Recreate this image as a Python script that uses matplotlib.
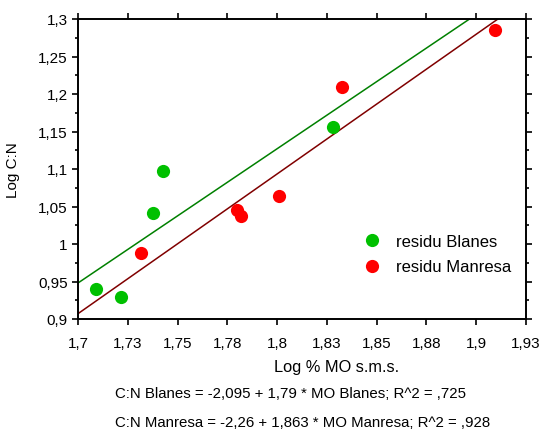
import matplotlib
matplotlib.use("Agg")
import matplotlib.pyplot as plt
import numpy as np
from matplotlib.ticker import MultipleLocator, FuncFormatter

plt.rcParams['font.family'] = ['Liberation Sans', 'DejaVu Sans']

# log % organic matter (x) and log C:N (y) for each site
BLANES_MO = [1.709, 1.7217, 1.7376, 1.7425, 1.828]
BLANES_CN = [0.940, 0.930, 1.041, 1.097, 1.156]
MANRESA_MO = [1.7318, 1.7798, 1.7821, 1.8007, 1.8328, 1.9093]
MANRESA_CN = [0.988, 1.046, 1.037, 1.064, 1.210, 1.286]

# regression coefficients (intercept, slope, R^2)
BLANES_FIT = (-2.095, 1.79, 0.725)
MANRESA_FIT = (-2.26, 1.863, 0.928)

X_MIN, X_MAX = 1.7, 1.925
Y_MIN, Y_MAX = 0.9, 1.3

W, H = 544, 435


def comma_fmt(decimals):
    # format numbers with a decimal comma and no trailing zeros
    def fmt(v, pos):
        s = ("%." + str(decimals) + "f") % v
        s = s.rstrip("0").rstrip(".")
        return s.replace(".", ",")
    return FuncFormatter(fmt)


def coef_str(v):
    s = ("%.3f" % v).rstrip("0").rstrip(".").replace(".", ",")
    if s.startswith("0,"):
        s = s[1:]
    return s


def plot():
    fig = plt.figure(figsize=(W / 100, H / 100), dpi=100)
    ax = fig.add_axes([78 / W, 115 / H, 448 / W, 300 / H])

    xs = np.array([X_MIN, X_MAX])
    ax.plot(xs, BLANES_FIT[0] + BLANES_FIT[1] * xs, color="#008000", lw=1.1, zorder=2)
    ax.plot(xs, MANRESA_FIT[0] + MANRESA_FIT[1] * xs, color="#800000", lw=1.1, zorder=2)

    ax.plot(BLANES_MO, BLANES_CN, "o", color="#00c000", ms=9.5, mec="none",
            label="residu Blanes", zorder=3)
    ax.plot(MANRESA_MO, MANRESA_CN, "o", color="#ff0000", ms=9.5, mec="none",
            label="residu Manresa", zorder=3)

    ax.set_xlim(X_MIN, X_MAX)
    ax.set_ylim(Y_MIN, Y_MAX)
    ax.xaxis.set_major_locator(MultipleLocator(0.025))
    ax.yaxis.set_major_locator(MultipleLocator(0.05))
    ax.yaxis.set_minor_locator(MultipleLocator(0.025))
    ax.xaxis.set_major_formatter(comma_fmt(2))
    ax.yaxis.set_major_formatter(comma_fmt(2))

    for side in ax.spines.values():
        side.set_linewidth(1.4)
    ax.tick_params(which="both", direction="out", top=True, right=True,
                   labeltop=False, labelright=False, width=1.2, labelsize=11)
    ax.tick_params(which="major", length=4.5, pad=3)
    ax.tick_params(which="minor", length=2.5)
    ax.tick_params(axis="x", pad=8)

    ax.set_ylabel("Log C:N", fontsize=11)
    ax.yaxis.set_label_coords((20 - 78) / 448, 0.5)

    ax.legend(loc="upper left", bbox_to_anchor=(364 / W, 1 - 235 / H),
              bbox_transform=fig.transFigure, frameon=False, borderpad=0,
              borderaxespad=0, fontsize=12, handlelength=1.0,
              handletextpad=0.95, labelspacing=0.62)

    fig.text(337 / W, 1 - 368 / H, "Log % MO s.m.s.", ha="center", va="center", fontsize=11.8)
    fig.text(115 / W, 1 - 394 / H,
             "C:N Blanes = " + coef_str(BLANES_FIT[0]) + " + " + coef_str(BLANES_FIT[1])
             + " * MO Blanes; R^2 = " + coef_str(BLANES_FIT[2]),
             ha="left", va="center", fontsize=10.8)
    fig.text(115 / W, 1 - 423 / H,
             "C:N Manresa = " + coef_str(MANRESA_FIT[0]) + " + " + coef_str(MANRESA_FIT[1])
             + " * MO Manresa; R^2 = " + coef_str(MANRESA_FIT[2]),
             ha="left", va="center", fontsize=10.8)

    plt.savefig("out.png", dpi=100)


def main():
    plot()


if __name__ == "__main__":
    main()
